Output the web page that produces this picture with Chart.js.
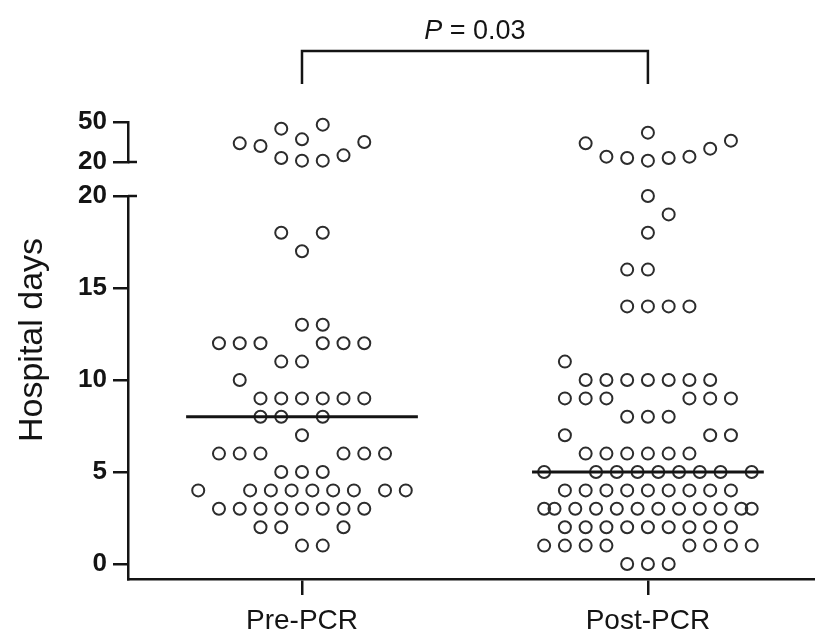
<!DOCTYPE html>
<html>
<head>
<meta charset="utf-8">
<script src="https://cdn.jsdelivr.net/npm/chart.js@4.4.1/dist/chart.umd.min.js"></script>
<style>
    html, body { margin: 0; background: #fff; overflow: hidden; }
    #wrap { position: relative; width: 815px; height: 641px; overflow: hidden; }
    canvas { position: absolute; left: 0; }
    #topChart { top: 0; }
    #bottomChart { top: 180px; }
</style>
</head>
<body>
<div id="wrap">
    <canvas id="topChart" width="815" height="180"></canvas>
    <canvas id="bottomChart" width="815" height="461"></canvas>
</div>
<script>
// ------------------------------
// Data
// ------------------------------
const categories = ['Pre-PCR', 'Post-PCR'];
const yTitle = 'Hospital days';
const pValue = '0.03';
const upperTicks = [20, 50];
const lowerTicks = [0, 5, 10, 15, 20];

// hospital days per patient, and the dot's sideways slot in the column scatter
const preDays = [
    34, 32, 45, 37, 48, 23, 21, 21, 25, 35,
    18, 18, 17, 13, 13,
    12, 12, 12, 12, 12, 12,
    11, 11, 10,
    9, 9, 9, 9, 9, 9,
    8, 8, 8, 7,
    6, 6, 6, 6, 6, 6,
    5, 5, 5,
    4, 4, 4, 4, 4, 4, 4, 4, 4,
    3, 3, 3, 3, 3, 3, 3, 3,
    2, 2, 2, 1, 1
];
const preJitter = [
    -3, -2, -1, 0, 1, -1, 0, 1, 2, 3,
    -1, 1, 0, 0, 1,
    -4, -3, -2, 1, 2, 3,
    -1, 0, -3,
    -2, -1, 0, 1, 2, 3,
    -2, -1, 1, 0,
    -4, -3, -2, 2, 3, 4,
    -1, 0, 1,
    -5, -2.5, -1.5, -0.5, 0.5, 1.5, 2.5, 4, 5,
    -4, -3, -2, -1, 0, 1, 2, 3,
    -2, -1, 2, 0, 1
];
const postDays = [
    42, 34, 24, 23, 21, 23, 24, 30, 36,
    20, 19, 18, 16, 16,
    14, 14, 14, 14, 11,
    10, 10, 10, 10, 10, 10, 10,
    9, 9, 9, 9, 9, 9,
    8, 8, 8, 7, 7, 7,
    6, 6, 6, 6, 6, 6,
    5, 5, 5, 5, 5, 5, 5, 5, 5,
    4, 4, 4, 4, 4, 4, 4, 4, 4,
    3, 3, 3, 3, 3, 3, 3, 3, 3, 3, 3, 3,
    2, 2, 2, 2, 2, 2, 2, 2, 2,
    1, 1, 1, 1, 1, 1, 1, 1,
    0, 0, 0
];
const postJitter = [
    0, -3, -2, -1, 0, 1, 2, 3, 4,
    0, 1, 0, -1, 0,
    -1, 0, 1, 2, -4,
    -3, -2, -1, 0, 1, 2, 3,
    -4, -3, -2, 2, 3, 4,
    -1, 0, 1, -4, 3, 4,
    -3, -2, -1, 0, 1, 2,
    -5, -2.5, -1.5, -0.5, 0.5, 1.5, 2.5, 3.5, 5,
    -4, -3, -2, -1, 0, 1, 2, 3, 4,
    -5, -4.5, -3.5, -2.5, -1.5, -0.5, 0.5, 1.5, 2.5, 3.5, 4.5, 5,
    -4, -3, -2, -1, 0, 1, 2, 3, 4,
    -5, -4, -3, -2, 2, 3, 4, 5,
    -1, 0, 1
];

// ------------------------------
// Look and layout
// ------------------------------
const BREAK = 20;          // axis is broken at 20 days
const SLOT = 0.06;         // dot spacing, in category units
const MEDIAN_HALF = 0.335; // half length of median bar
const INK = '#141414';
const DOT = '#2c2c2c';
const FONT = "'Liberation Sans', Arial, Helvetica, sans-serif";
const AXIS_W = 128;
const X_MIN = 0.497, X_MAX = 2.483;

function median(arr) {
    const s = [...arr].sort((a, b) => a - b);
    const m = Math.floor(s.length / 2);
    return s.length % 2 ? s[m] : (s[m - 1] + s[m]) / 2;
}

function dots(days, jitter, center, keep) {
    return days
        .map((d, i) => ({ x: center + jitter[i] * SLOT, y: d }))
        .filter(p => keep(p.y));
}

function dotSet(data) {
    return {
        data: data,
        showLine: false,
        pointRadius: 6,
        pointHoverRadius: 6,
        pointBorderWidth: 2,
        pointBorderColor: DOT,
        pointBackgroundColor: 'rgba(0,0,0,0)',
        clip: false,
        order: 1
    };
}

function medianSet(days, center) {
    const m = median(days);
    return {
        data: [{ x: center - MEDIAN_HALF, y: m }, { x: center + MEDIAN_HALF, y: m }],
        showLine: true,
        borderColor: INK,
        borderWidth: 3,
        pointRadius: 0,
        clip: false,
        order: 0
    };
}

function yAxis(min, max, ticks) {
    return {
        min: min,
        max: max,
        afterBuildTicks: s => { s.ticks = ticks.map(v => ({ value: v })); },
        afterFit: s => { s.width = AXIS_W; },
        border: { display: true, color: INK, width: 2.5 },
        grid: { drawOnChartArea: false, color: INK, lineWidth: 2.5, tickLength: 15 },
        ticks: { color: INK, padding: 6, font: { family: FONT, size: 26, weight: 'bold', lineHeight: 0.6 } }
    };
}

// short stub of the break tick that pokes into the plot
function breakStub(id) {
    return {
        id: id,
        afterDraw(chart) {
            const { ctx, chartArea, scales } = chart;
            const y = scales.y.getPixelForValue(BREAK);
            ctx.save();
            ctx.strokeStyle = INK;
            ctx.lineWidth = 2.5;
            ctx.beginPath();
            ctx.moveTo(chartArea.left, y);
            ctx.lineTo(chartArea.left + 9, y);
            ctx.stroke();
            ctx.restore();
        }
    };
}

// significance bracket with the P value over it
const bracket = {
    id: 'bracket',
    afterDraw(chart) {
        const { ctx, scales } = chart;
        const x1 = scales.x.getPixelForValue(1);
        const x2 = scales.x.getPixelForValue(2);
        ctx.save();
        ctx.strokeStyle = INK;
        ctx.lineWidth = 2.5;
        ctx.beginPath();
        ctx.moveTo(x1, 84);
        ctx.lineTo(x1, 51);
        ctx.lineTo(x2, 51);
        ctx.lineTo(x2, 84);
        ctx.stroke();

        const italic = 'italic 27px ' + FONT;
        const plain = '27px ' + FONT;
        const rest = ' = ' + pValue;
        ctx.font = italic;
        const wP = ctx.measureText('P').width;
        ctx.font = plain;
        const wRest = ctx.measureText(rest).width;
        const x = (x1 + x2) / 2 - (wP + wRest) / 2;
        ctx.fillStyle = INK;
        ctx.textBaseline = 'alphabetic';
        ctx.font = italic;
        ctx.fillText('P', x, 39);
        ctx.font = plain;
        ctx.fillText(rest, x + wP, 39);
        ctx.restore();
    }
};

// y title placed over the whole broken axis
const yTitlePlugin = {
    id: 'yTitle',
    afterDraw(chart) {
        const ctx = chart.ctx;
        ctx.save();
        ctx.translate(33, 160);
        ctx.rotate(-Math.PI / 2);
        ctx.font = '34px ' + FONT;
        ctx.fillStyle = INK;
        ctx.textAlign = 'center';
        ctx.textBaseline = 'middle';
        ctx.fillText(yTitle, 0, 0);
        ctx.restore();
    }
};

const quiet = { legend: { display: false }, tooltip: { enabled: false } };

// ------------------------------
// Upper segment (20 - 50)
// ------------------------------
new Chart(document.getElementById('topChart'), {
    type: 'scatter',
    data: {
        datasets: [
            dotSet(dots(preDays, preJitter, 1, v => v > BREAK)),
            dotSet(dots(postDays, postJitter, 2, v => v > BREAK))
        ]
    },
    options: {
        responsive: false,
        animation: false,
        events: [],
        layout: { autoPadding: false, padding: { top: 122, bottom: 18, left: 0, right: 0 } },
        plugins: quiet,
        scales: {
            x: { type: 'linear', min: X_MIN, max: X_MAX, display: false },
            y: yAxis(BREAK, 50, upperTicks)
        }
    },
    plugins: [bracket, breakStub('stubTop')]
});

// ------------------------------
// Lower segment (0 - 20)
// ------------------------------
new Chart(document.getElementById('bottomChart'), {
    type: 'scatter',
    data: {
        datasets: [
            medianSet(preDays, 1),
            medianSet(postDays, 2),
            dotSet(dots(preDays, preJitter, 1, v => v <= BREAK)),
            dotSet(dots(postDays, postJitter, 2, v => v <= BREAK))
        ]
    },
    options: {
        responsive: false,
        animation: false,
        events: [],
        layout: { autoPadding: false, padding: { top: 16, bottom: 0, left: 0, right: 0 } },
        plugins: quiet,
        scales: {
            x: {
                type: 'linear',
                min: X_MIN,
                max: X_MAX,
                afterBuildTicks: s => { s.ticks = categories.map((c, i) => ({ value: i + 1 })); },
                afterFit: s => { s.height = 62; },
                border: { display: true, color: INK, width: 2.5 },
                grid: { drawOnChartArea: false, color: INK, lineWidth: 2.5, tickLength: 16 },
                ticks: {
                    autoSkip: false,
                    maxRotation: 0,
                    padding: 9,
                    color: INK,
                    font: { family: FONT, size: 28 },
                    callback: v => categories[v - 1]
                }
            },
            y: yAxis(-0.815, BREAK, lowerTicks)
        }
    },
    plugins: [yTitlePlugin, breakStub('stubBottom')]
});
</script>
</body>
</html>
